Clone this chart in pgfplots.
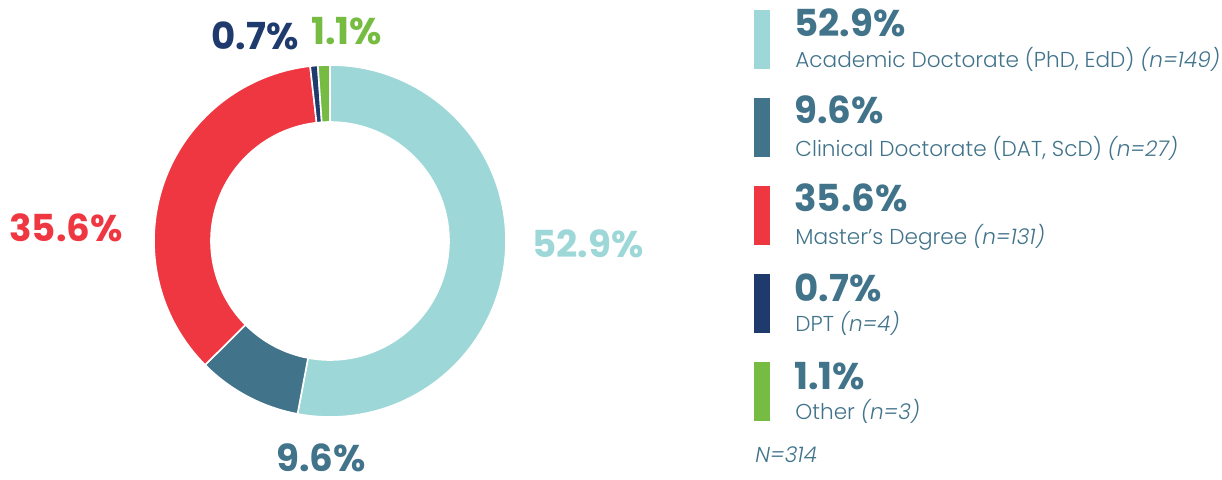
\documentclass[border=0pt]{standalone}
\usepackage{pgfplots}
\pgfplotsset{compat=1.18}
\usepackage{fontspec}
\setmainfont{Poppins}
\IfFontExistsTF{Poppins Light}{\newfontfamily\lightfont{Poppins Light}}{\newfontfamily\lightfont{Poppins}}
\definecolor{lteal}{HTML}{9DD7D8}
\definecolor{dteal}{HTML}{41738B}
\definecolor{cred}{HTML}{EF3742}
\definecolor{navy}{HTML}{1F3B6E}
\definecolor{cgreen}{HTML}{77BC42}
\newlength{\Ro}\setlength{\Ro}{88pt}
\newlength{\Ri}\setlength{\Ri}{59.5pt}
\pgfdeclareplotmark{slice}{%
  \pgfpathmoveto{\pgfpointpolar{\aStart}{\Ro}}%
  \pgfpatharc{\aStart}{\aEnd}{\Ro}%
  \pgfpathlineto{\pgfpointpolar{\aEnd}{\Ri}}%
  \pgfpatharc{\aEnd}{\aStart}{\Ri}%
  \pgfpathclose
  \pgfusepathqfillstroke}
\pgfplotsset{
  slice/.style={only marks, mark=slice,
    visualization depends on={90-360*\thisrow{cum}/99.9 \as \aStart},
    visualization depends on={90-360*(\thisrow{cum}+\thisrow{pct})/99.9 \as \aEnd},
    mark options={draw=white, fill=#1, line width=0.8pt}},
  swatch/.style={draw=#1, line width=8pt, mark=none},
}
\newcommand{\bigpct}{\fontsize{18.6}{18}\selectfont\bfseries}
\newcommand{\lab}{\fontsize{10.8}{12}\selectfont\lightfont}
\begin{document}
\begin{tikzpicture}
\begin{axis}[width=611pt, height=240pt, scale only axis,
  xmin=0, xmax=1222, ymin=0, ymax=480, hide axis, clip=false]
\path (rel axis cs:0,0) rectangle (rel axis cs:1,1);
% donut slices (center at px 330,241)
\addplot[slice=lteal] table[row sep=\\] {x y pct cum\\ 330 239 52.9 0\\};
\addplot[slice=dteal] table[row sep=\\] {x y pct cum\\ 330 239 9.6 52.9\\};
\addplot[slice=cred]  table[row sep=\\] {x y pct cum\\ 330 239 35.6 62.5\\};
\addplot[slice=navy]  table[row sep=\\] {x y pct cum\\ 330 239 0.7 98.1\\};
\addplot[slice=cgreen] table[row sep=\\] {x y pct cum\\ 330 239 1.1 98.8\\};
% legend swatches
\addplot[swatch=lteal] coordinates {(762,470) (762,411)};
\addplot[swatch=dteal] coordinates {(762,382) (762,323)};
\addplot[swatch=cred] coordinates {(762,294) (762,235)};
\addplot[swatch=navy] coordinates {(762,206) (762,147)};
\addplot[swatch=cgreen] coordinates {(762,118) (762,59)};
% chart labels
\node[anchor=base west, text=navy, inner sep=0] at (axis cs:211,430) {\bigpct 0.7\%};
\node[anchor=base west, text=cgreen, inner sep=0] at (axis cs:311,435) {\bigpct 1.1\%};
\node[anchor=base west, text=cred, inner sep=0] at (axis cs:9,238) {\bigpct 35.6\%};
\node[anchor=base west, text=lteal, inner sep=0] at (axis cs:532,222) {\bigpct 52.9\%};
\node[anchor=base west, text=dteal, inner sep=0] at (axis cs:276,8) {\bigpct 9.6\%};
% legend text
\node[anchor=base west, text=dteal, inner sep=0] at (axis cs:794,443) {\bigpct 52.9\%};
\node[anchor=base west, text=dteal, inner sep=0] at (axis cs:795,412) {\lab Academic Doctorate (PhD, EdD) \textit{(n=149)}};
\node[anchor=base west, text=dteal, inner sep=0] at (axis cs:794,356) {\bigpct 9.6\%};
\node[anchor=base west, text=dteal, inner sep=0] at (axis cs:795,323) {\lab Clinical Doctorate (DAT, ScD) \textit{(n=27)}};
\node[anchor=base west, text=dteal, inner sep=0] at (axis cs:794,268) {\bigpct 35.6\%};
\node[anchor=base west, text=dteal, inner sep=0] at (axis cs:795,235) {\lab Master’s Degree \textit{(n=131)}};
\node[anchor=base west, text=dteal, inner sep=0] at (axis cs:794,178) {\bigpct 0.7\%};
\node[anchor=base west, text=dteal, inner sep=0] at (axis cs:795,148) {\lab DPT \textit{(n=4)}};
\node[anchor=base west, text=dteal, inner sep=0] at (axis cs:794,90) {\bigpct 1.1\%};
\node[anchor=base west, text=dteal, inner sep=0] at (axis cs:795,60) {\lab Other \textit{(n=3)}};
\node[anchor=base west, text=dteal, inner sep=0] at (axis cs:755,17) {\lab\textit{N=314}};
\end{axis}
\end{tikzpicture}
\end{document}
